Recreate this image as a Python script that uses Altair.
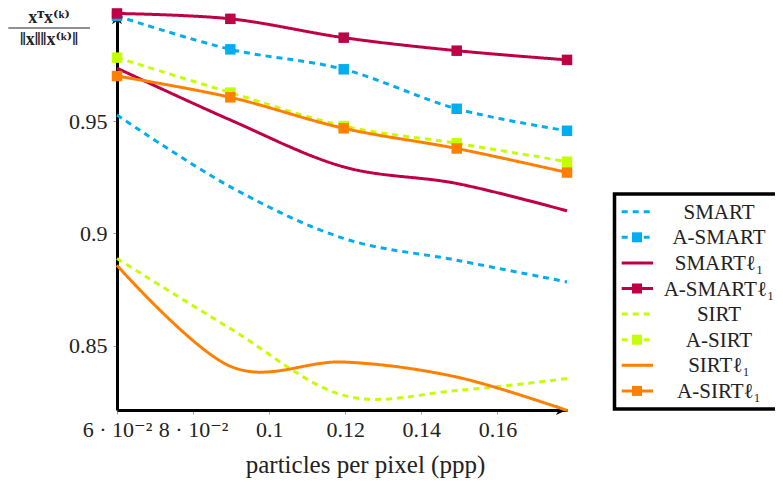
import altair as alt
import pandas as pd

FONT = "Liberation Serif, DejaVu Serif, serif"

# ---- data ----
ppp = [0.06, 0.0898, 0.1196, 0.1493, 0.1783]
smart = [0.9528, 0.9208, 0.8978, 0.8881, 0.8784]
a_smart = [0.9970, 0.9821, 0.9732, 0.9556, 0.9458]
smart_l1 = [0.9737, 0.9506, 0.9297, 0.9223, 0.9101]
a_smart_l1 = [0.9981, 0.9957, 0.9873, 0.9815, 0.9774]
sirt = [0.8888, 0.8576, 0.8278, 0.8300, 0.8353]
a_sirt = [0.9784, 0.9628, 0.9479, 0.9402, 0.9320]
sirt_l1 = [0.8858, 0.8408, 0.8427, 0.8360, 0.8211]
a_sirt_l1 = [0.9702, 0.9607, 0.9469, 0.9379, 0.9272]

series_names = ["SMART", "A-SMART", "SMARTℓ₁", "A-SMARTℓ₁",
                "SIRT", "A-SIRT", "SIRTℓ₁", "A-SIRTℓ₁"]
series_values = [smart, a_smart, smart_l1, a_smart_l1,
                 sirt, a_sirt, sirt_l1, a_sirt_l1]
colors = ["#00AEEF", "#00AEEF", "#BE0046", "#BE0046",
          "#C4FF00", "#C4FF00", "#FF8000", "#FF8000"]
dashed = [True, True, False, False, True, True, False, False]
markers = [False, True, False, True, False, True, False, True]

x_ticks = [0.06, 0.08, 0.1, 0.12, 0.14, 0.16]
y_ticks = [0.85, 0.9, 0.95]

rows = []
for name, vals in zip(series_names, series_values):
    for xv, yv in zip(ppp, vals):
        rows.append({"series": name, "ppp": xv, "value": yv})
df = pd.DataFrame(rows)

DASH = [6, 5]
SOLID = [1, 0]

x_enc = alt.X(
    "ppp:Q",
    scale=alt.Scale(domain=[0.06, 0.1783], nice=False, zero=False),
    axis=alt.Axis(
        values=x_ticks,
        labelExpr="datum.value < 0.09 ? format(datum.value*100, '.0f') + ' · 10⁻²' : format(datum.value, '.2~f')",
        title="particles per pixel (ppp)",
        grid=False, domainColor="black", domainWidth=3,
        tickColor="#999999", tickSize=4, tickWidth=1,
        labelFont=FONT, labelFontSize=22, labelColor="#222222", labelPadding=5,
        labelOverlap=False, labelFlush=False, labelBound=False,
        titleFont=FONT, titleFontSize=25, titleFontWeight="normal", titleColor="#222222",
        titlePadding=12, titleX=248,
    ),
)
y_enc = alt.Y(
    "value:Q",
    scale=alt.Scale(domain=[0.8213, 0.9983], nice=False, zero=False),
    axis=alt.Axis(
        values=y_ticks, format=".2~f", title=None,
        grid=False, domainColor="black", domainWidth=3,
        tickColor="#999999", tickSize=4, tickWidth=1,
        labelFont=FONT, labelFontSize=22, labelColor="#222222", labelPadding=6,
    ),
)

one = pd.DataFrame({"k": [0]})

# axis arrowheads
arrow_x = alt.Chart(one).mark_point(
    shape="M0,0 L-1,-0.45 L-0.7,0 L-1,0.45 Z", filled=True, color="black", opacity=1, size=500
).encode(x=alt.value(450), y=alt.value(397))
arrow_y = alt.Chart(one).mark_point(
    shape="M0,0 L-0.45,1 L0,0.7 L0.45,1 Z", filled=True, color="black", opacity=1, size=500
).encode(x=alt.value(0), y=alt.value(0))

layers = [arrow_x, arrow_y]
for name, col, d, m in zip(series_names, colors, dashed, markers):
    base = alt.Chart(df).transform_filter(alt.datum.series == name)
    layers.append(
        base.mark_line(interpolate="cardinal", strokeWidth=3, color=col,
                       strokeDash=DASH if d else SOLID, strokeCap="butt")
        .encode(x=x_enc, y=y_enc)
    )
    if m:
        layers.append(
            base.mark_point(shape="square", filled=True, color=col, opacity=1, size=110)
            .encode(x=x_enc, y=y_enc)
        )

# y-axis title as a fraction
num = alt.Chart(one).mark_text(
    text="xᵀx⁽ᵏ⁾", font=FONT, fontSize=18, fontWeight="bold", align="center",
    baseline="alphabetic", color="#222222"
).encode(x=alt.value(-68), y=alt.value(10))
bar = alt.Chart(one).mark_rule(color="#222222", strokeWidth=1).encode(
    x=alt.value(-108.7), x2=alt.value(-27), y=alt.value(15))
den = alt.Chart(one).mark_text(
    text="‖x‖‖x⁽ᵏ⁾‖", font=FONT, fontSize=18, fontWeight="bold", align="center",
    baseline="alphabetic", color="#222222"
).encode(x=alt.value(-68), y=alt.value(32))
layers += [num, bar, den]

main = alt.layer(*layers)

# ---- custom legend ----
leg_df = pd.DataFrame({"label": series_names, "marker": markers})
leg_y = alt.Y("label:N", scale=alt.Scale(type="point", domain=series_names,
                                         range=[198.7, 377.9], padding=0), axis=None)
leg_color = alt.Color("label:N", scale=alt.Scale(domain=series_names, range=colors), legend=None)
leg_dash = alt.StrokeDash("label:N", scale=alt.Scale(domain=series_names,
                                                     range=[DASH if d else SOLID for d in dashed]),
                          legend=None)

box = alt.Chart(one).mark_rect(fill="white", stroke="black", strokeWidth=3.5).encode(
    x=alt.value(497.5), x2=alt.value(662.5), y=alt.value(181), y2=alt.value(396))
leg_lines = alt.Chart(leg_df).mark_rule(strokeWidth=3, strokeCap="butt").encode(
    x=alt.value(504.7), x2=alt.value(536), y=leg_y, color=leg_color, strokeDash=leg_dash)
leg_pts = alt.Chart(leg_df).transform_filter(alt.datum.marker == True).mark_point(
    shape="square", filled=True, opacity=1, size=100).encode(
    x=alt.value(520), y=leg_y, color=leg_color)
leg_txt = alt.Chart(leg_df).mark_text(
    font=FONT, fontSize=21, align="center", baseline="alphabetic", dy=7, color="#222222"
).encode(x=alt.value(602), y=leg_y, text="label:N")

legend = alt.layer(box, leg_lines, leg_pts, leg_txt)

chart = alt.layer(main, legend).resolve_scale(
    y="independent", color="independent", strokeDash="independent"
).properties(
    width=450, height=397,
    autosize=alt.AutoSizeParams(type="none"),
    padding={"left": 109, "top": 5, "right": 208, "bottom": 70},
    background="white",
).configure_view(stroke=None)

chart.save("out.html", embed_options={"renderer": "svg", "actions": False})
